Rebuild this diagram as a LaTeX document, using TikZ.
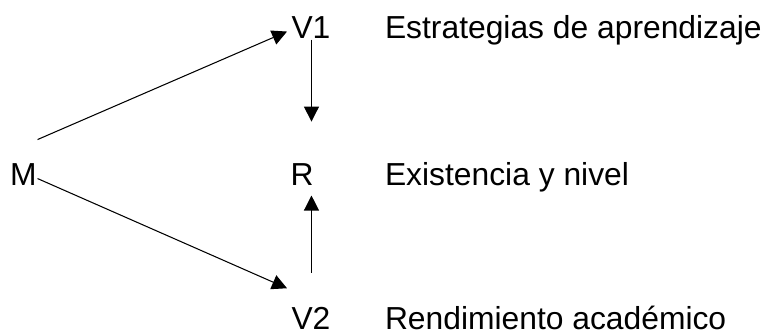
\documentclass[tikz,border=0pt]{standalone}
\usepackage{fontspec}
\setmainfont{Liberation Sans}
\usetikzlibrary{arrows.meta}

\begin{document}
\begin{tikzpicture}[>={Triangle[length=3mm,width=3mm]}, line width=0.6pt,
  every node/.style={inner sep=0pt, anchor=base west, font=\fontsize{18.1}{20}\selectfont}]

\useasboundingbox (0,0) rectangle (15.36,6.70);

\node (M) at (0.19,2.98) {M};
\node (V1) at (5.82,5.92) {V1};
\node (R) at (5.80,2.98) {R};
\node (V2) at (5.82,0.10) {V2};

\node (lv1) at (7.69,5.92) {Estrategias de aprendizaje};
\node (lr) at (7.69,2.98) {Existencia y nivel};
\node (lv2) at (7.69,0.10) {Rendimiento académico};


\draw[->] ([shift={(0.01,0.71)}]M.east) -- ([shift={(-0.08,-0.07)}]V1.west);
\draw[->] ([shift={(0.01,-0.07)}]M.east) -- ([shift={(-0.08,0.38)}]V2.north west);

\draw[->, shorten >=0.84cm] ([xshift=0.01cm]V1.south) -- ([xshift=0.01cm]V1.south |- R.north);
\draw[->, shorten <=0.69cm, shorten >=0.18cm] ([xshift=0.01cm]V2.north) -- ([xshift=0.01cm]V2.north |- R.south);

\end{tikzpicture}
\end{document}
